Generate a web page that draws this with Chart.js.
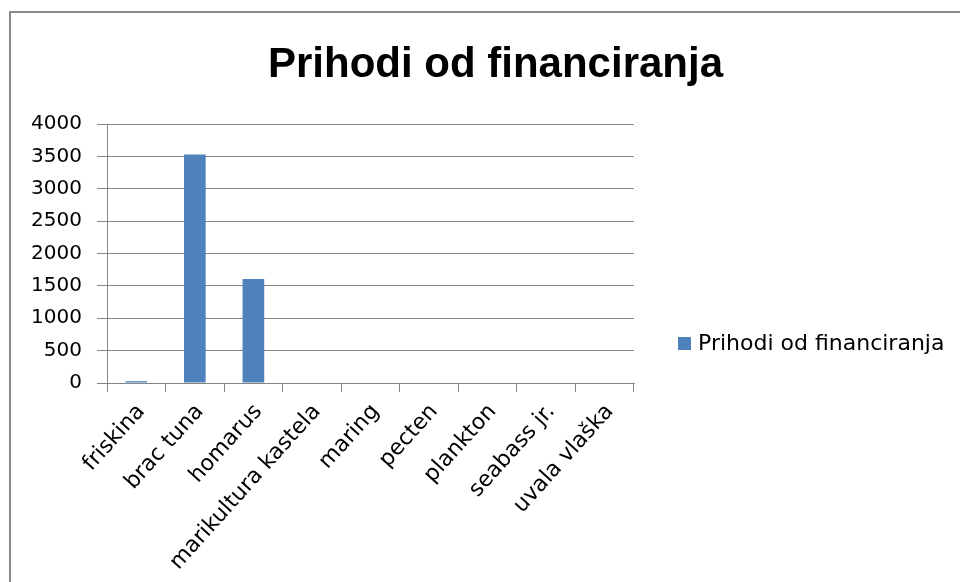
<!DOCTYPE html>
<html lang="hr">
  <head>
    <meta charset="UTF-8" />
    <title>Prihodi od financiranja</title>
  </head>
  <style>
    * {
      margin: 0;
      padding: 0;
    }
    body {
      width: 960px;
      height: 582px;
      overflow: hidden;
      background: #fff;
      position: relative;
    }
    .frame {
      position: absolute;
      left: 9px;
      top: 11px;
      width: 1100px;
      height: 700px;
      border: 2px solid #8a8a8a;
    }
    .chartBox {
      position: absolute;
      left: 0;
      top: 0;
      width: 991px;
      height: 582px;
    }
  </style>
  <body>
    <div class="frame"></div>
    <div class="chartBox">
      <canvas id="myChart"></canvas>
    </div>

    <script src="https://cdn.jsdelivr.net/npm/chart.js"></script>

    <script>
      const categories = [
        "friskina",
        "brac tuna",
        "homarus",
        "marikultura kastela",
        "maring",
        "pecten",
        "plankton",
        "seabass jr.",
        "uvala vlaška"
      ];
      const seriesName = "Prihodi od financiranja";
      const seriesValues = [28, 3530, 1605, 0, 0, 0, 0, 0, 0];
      const yMin = 0;
      const yMax = 4000;
      const yStep = 500;

      const axisGray = "#868686";

      // title centred on the whole frame, legend to the right of the plot (Excel style)
      const frameText = {
        id: "frameText",
        afterDraw(chart) {
          const ctx = chart.ctx;
          const ds = chart.data.datasets[0];
          ctx.save();
          ctx.fillStyle = "#000";
          ctx.font = 'bold 42px "Liberation Sans"';
          ctx.textAlign = "center";
          ctx.textBaseline = "alphabetic";
          ctx.fillText(ds.label, 495.5, 77);

          const x = chart.chartArea.right + 44;
          const y = chart.chartArea.bottom - 40;
          ctx.fillStyle = ds.backgroundColor;
          ctx.fillRect(x, y - 6, 13, 13);
          ctx.fillStyle = "#000";
          ctx.font = '22px "DejaVu Sans"';
          ctx.textAlign = "left";
          ctx.textBaseline = "middle";
          ctx.fillText(ds.label, x + 20, y + 1);
          ctx.restore();
        }
      };

      const data = {
        labels: categories,
        datasets: [
          {
            label: seriesName,
            data: seriesValues,
            backgroundColor: "#4f81bd",
            barPercentage: 0.37,
            categoryPercentage: 1
          }
        ]
      };

      const config = {
        type: "bar",
        data,
        options: {
          responsive: true,
          maintainAspectRatio: false,
          animation: false,
          layout: {
            padding: { left: 31, right: 357, top: 124, bottom: 0 }
          },
          plugins: {
            legend: { display: false },
            tooltip: { enabled: false },
            title: { display: false }
          },
          scales: {
            x: {
              afterFit: (scale) => {
                scale.height = 199;
              },
              grid: {
                drawOnChartArea: false,
                drawTicks: true,
                tickLength: 9,
                color: axisGray
              },
              border: { color: axisGray },
              ticks: {
                autoSkip: false,
                maxRotation: 48,
                minRotation: 48,
                labelOffset: 5,
                font: { family: "DejaVu Sans", size: 22 },
                color: "#000",
                padding: 7
              }
            },
            y: {
              min: yMin,
              max: yMax,
              afterFit: (scale) => {
                scale.width = 76;
              },
              grid: { color: axisGray, tickLength: 10 },
              border: { color: axisGray },
              ticks: {
                stepSize: yStep,
                padding: 15,
                font: { family: "DejaVu Sans", size: 20 },
                color: "#000",
                callback: (value) => String(value)
              }
            }
          }
        },
        plugins: [frameText]
      };

      const myChart = new Chart(document.getElementById("myChart"), config);
    </script>
  </body>
</html>
